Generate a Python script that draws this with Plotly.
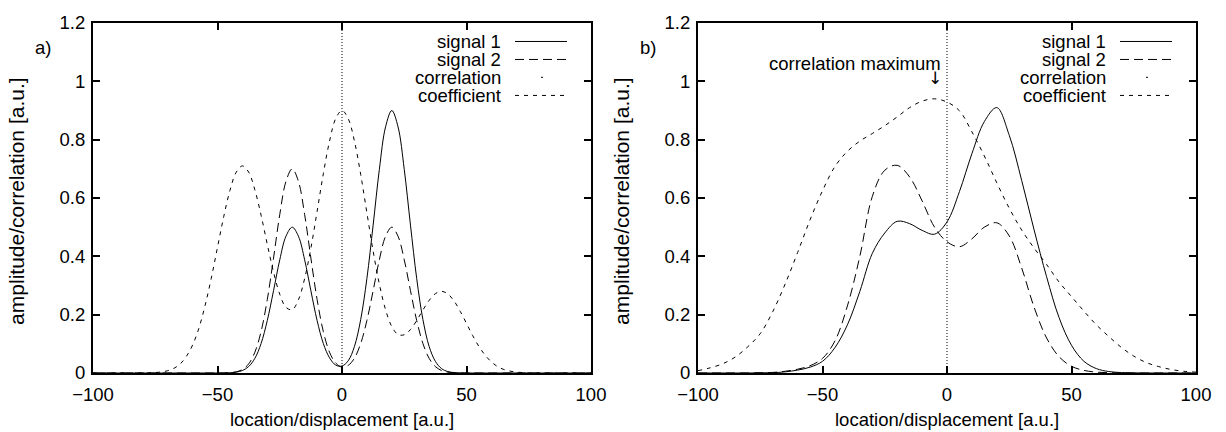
import plotly.graph_objects as go

# ---------------- data ----------------
X_A = [-100, -97.5, -95, -92.5, -90, -87.5, -85, -82.5, -80, -77.5,
       -75, -72.5, -70, -67.5, -65, -62.5, -60, -57.5, -55, -52.5,
       -50, -47.5, -45, -42.5, -40, -37.5, -35, -32.5, -30, -27.5,
       -25, -22.5, -20, -17.5, -15, -12.5, -10, -7.5, -5, -2.5,
       0, 2.5, 5, 7.5, 10, 12.5, 15, 17.5, 20, 22.5,
       25, 27.5, 30, 32.5, 35, 37.5, 40, 42.5, 45, 47.5,
       50, 52.5, 55, 57.5, 60, 62.5, 65, 67.5, 70, 72.5,
       75, 77.5, 80, 82.5, 85, 87.5, 90, 92.5, 95, 97.5, 100]

SIGNAL1_A = [0, 0, 0, 0, 0, 0, 0, 0, 0, 0,
             0, 0, 0, 0, 0, 0, 0, 0, 0, 0,
             0, 0.0002, 0.0009, 0.003, 0.0085, 0.022, 0.050, 0.101, 0.180, 0.282,
             0.388, 0.469, 0.500, 0.469, 0.388, 0.282, 0.180, 0.101, 0.052, 0.027,
             0.024, 0.042, 0.091, 0.183, 0.324, 0.507, 0.698, 0.844, 0.900, 0.844,
             0.698, 0.507, 0.324, 0.183, 0.091, 0.040, 0.015, 0.005, 0.0015, 0.0004,
             0, 0, 0, 0, 0, 0, 0, 0, 0, 0,
             0, 0, 0, 0, 0, 0, 0, 0, 0, 0, 0]

SIGNAL2_A = [0, 0, 0, 0, 0, 0, 0, 0, 0, 0,
             0, 0, 0, 0, 0, 0, 0, 0, 0, 0,
             0, 0.0003, 0.0012, 0.004, 0.012, 0.031, 0.071, 0.142, 0.252, 0.394,
             0.543, 0.657, 0.700, 0.657, 0.543, 0.394, 0.252, 0.142, 0.071, 0.034,
             0.020, 0.026, 0.051, 0.101, 0.180, 0.282, 0.388, 0.469, 0.500, 0.469,
             0.388, 0.282, 0.180, 0.101, 0.050, 0.022, 0.0085, 0.003, 0.001, 0.0002,
             0, 0, 0, 0, 0, 0, 0, 0, 0, 0,
             0, 0, 0, 0, 0, 0, 0, 0, 0, 0, 0]

COEF_A = [0, 0, 0, 0, 0, 0, 0, 0, 0.0002, 0.0006,
          0.0016, 0.0036, 0.0079, 0.016, 0.031, 0.057, 0.096, 0.153, 0.231, 0.325,
          0.431, 0.536, 0.626, 0.688, 0.710, 0.689, 0.628, 0.541, 0.441, 0.346,
          0.270, 0.225, 0.217, 0.251, 0.324, 0.428, 0.554, 0.683, 0.795, 0.873,
          0.900, 0.872, 0.795, 0.681, 0.549, 0.418, 0.305, 0.217, 0.159, 0.132,
          0.131, 0.149, 0.180, 0.216, 0.249, 0.272, 0.280, 0.271, 0.247, 0.211,
          0.170, 0.128, 0.091, 0.061, 0.038, 0.022, 0.012, 0.0064, 0.0031, 0.0014,
          0.0006, 0.0002, 0, 0, 0, 0, 0, 0, 0, 0, 0]

X_B = [-100, -95, -90, -85, -80, -75, -70, -65, -60, -55,
       -50, -45, -40, -35, -30, -25, -20, -15, -10, -5,
       0, 5, 10, 15, 20, 25, 30, 35, 40, 45,
       50, 55, 60, 65, 70, 75, 80, 85, 90, 95, 100]

SIGNAL1_B = [0, 0, 0, 0, 0, 0.0005, 0.001, 0.004, 0.010, 0.020,
             0.040, 0.087, 0.165, 0.280, 0.410, 0.480, 0.520, 0.512, 0.489, 0.476,
             0.518, 0.622, 0.752, 0.862, 0.910, 0.815, 0.660, 0.490, 0.330, 0.190,
             0.095, 0.040, 0.015, 0.005, 0.0015, 0.0005, 0, 0, 0, 0, 0]

SIGNAL2_B = [0, 0, 0, 0, 0, 0.001, 0.002, 0.006, 0.013, 0.025,
             0.050, 0.110, 0.230, 0.400, 0.605, 0.695, 0.712, 0.672, 0.590, 0.500,
             0.450, 0.433, 0.460, 0.500, 0.515, 0.470, 0.360, 0.225, 0.120, 0.056,
             0.023, 0.009, 0.003, 0.001, 0, 0, 0, 0, 0, 0, 0]

COEF_B = [0.008, 0.018, 0.032, 0.055, 0.090, 0.135, 0.210, 0.305, 0.413, 0.525,
          0.625, 0.708, 0.760, 0.795, 0.821, 0.848, 0.878, 0.910, 0.932, 0.940,
          0.929, 0.899, 0.827, 0.744, 0.652, 0.565, 0.490, 0.428, 0.372, 0.312,
          0.262, 0.212, 0.165, 0.125, 0.088, 0.058, 0.036, 0.022, 0.012, 0.006, 0.003]

ZERO_LINE_X = [0, 0]
ZERO_LINE_Y = [0, 1.2]

X_TICKS = [-100, -50, 0, 50, 100]
Y_TICKS = [0, 0.2, 0.4, 0.6, 0.8, 1, 1.2]
LEGEND_LABELS = ["signal 1", "signal 2", "correlation", "coefficient"]
PANEL_LABELS = ["a)", "b)"]
X_TITLE = "location/displacement [a.u.]"
Y_TITLE = "amplitude/correlation [a.u.]"
MAX_LABEL = "correlation maximum"
MAX_X = -5.0      # location of correlation maximum (panel b)
MAX_TEXT_Y = 1.06
MAX_ARROW_Y = 1.01

# ---------------- styling ----------------
FONT = "Liberation Sans, Arial, Helvetica, sans-serif"
FS = 18.5
FS_YTITLE = 21
W, H = 1226, 432
L, R, T, B = 93, 1196, 13, 373          # pixel box covering both panels
A_RIGHT, B_LEFT = 591, 698


def px(x):
    return (x - L) / (R - L)


def py(y):
    return (B - y) / (B - T)


DASH_SIG2 = "9px,5px"
DASH_COEF = "4px,5px"
DASH_ZERO = "1px,2px"

fig = go.Figure()

panels = [
    ("x", "y", X_A, SIGNAL1_A, SIGNAL2_A, COEF_A),
    ("x2", "y2", X_B, SIGNAL1_B, SIGNAL2_B, COEF_B),
]
for xa, ya, xs, s1, s2, cc in panels:
    fig.add_trace(go.Scatter(x=ZERO_LINE_X, y=ZERO_LINE_Y, mode="lines", xaxis=xa, yaxis=ya,
                             line=dict(color="black", width=1, dash=DASH_ZERO),
                             showlegend=False, hoverinfo="skip"))
    fig.add_trace(go.Scatter(x=xs, y=cc, mode="lines", xaxis=xa, yaxis=ya,
                             line=dict(color="black", width=1, dash=DASH_COEF, shape="spline"),
                             name="coefficient", showlegend=False))
    fig.add_trace(go.Scatter(x=xs, y=s2, mode="lines", xaxis=xa, yaxis=ya,
                             line=dict(color="black", width=1, dash=DASH_SIG2, shape="spline"),
                             name="signal 2", showlegend=False))
    fig.add_trace(go.Scatter(x=xs, y=s1, mode="lines", xaxis=xa, yaxis=ya,
                             line=dict(color="black", width=1, shape="spline"),
                             name="signal 1", showlegend=False))

axis_common = dict(showgrid=False, zeroline=False, showline=True, linecolor="black",
                   linewidth=2, mirror="allticks", ticks="inside", ticklen=7,
                   tickwidth=1.5, tickcolor="black",
                   tickfont=dict(family=FONT, size=FS, color="black"))

fig.update_layout(
    width=W, height=H,
    margin=dict(l=L, r=W - R, t=T, b=H - B, pad=0),
    plot_bgcolor="white", paper_bgcolor="white",
    showlegend=False,
    font=dict(family=FONT, size=FS, color="black"),
    xaxis=dict(domain=[0, px(A_RIGHT)], range=[-100, 100], tickvals=X_TICKS, anchor="y",
               ticklabelstandoff=4, **axis_common),
    yaxis=dict(domain=[0, 1], range=[0, 1.2], tickvals=Y_TICKS, anchor="x",
               ticklabelstandoff=2, **axis_common),
    xaxis2=dict(domain=[px(B_LEFT), 1], range=[-100, 100], tickvals=X_TICKS, anchor="y2",
                ticklabelstandoff=4, **axis_common),
    yaxis2=dict(domain=[0, 1], range=[0, 1.2], tickvals=Y_TICKS, anchor="x2",
                ticklabelstandoff=2, **axis_common),
)

annotations = []
shapes = []
LEG_Y = [32, 50.5, 69, 87.5]
for (left, right), plabel in zip([(L, A_RIGHT), (B_LEFT, R)], PANEL_LABELS):
    cx = (left + right) / 2
    # x title
    annotations.append(dict(text=X_TITLE, xref="paper", yref="paper", x=px(cx), y=py(421),
                            xanchor="center", yanchor="middle", showarrow=False,
                            font=dict(family=FONT, size=FS, color="black")))
    # y title
    annotations.append(dict(text=Y_TITLE, xref="paper", yref="paper", x=px(left - 76), y=py(197),
                            xanchor="center", yanchor="middle", showarrow=False, textangle=-90,
                            font=dict(family=FONT, size=FS_YTITLE, color="black")))
    # panel label
    annotations.append(dict(text=plabel, xref="paper", yref="paper", x=px(left - 50), y=py(38),
                            xanchor="center", yanchor="middle", showarrow=False,
                            font=dict(family=FONT, size=FS, color="black")))
    # legend
    for lab, yy in zip(LEGEND_LABELS, LEG_Y):
        annotations.append(dict(text=lab, xref="paper", yref="paper", x=px(right - 88), y=py(yy),
                                xanchor="right", yanchor="middle", showarrow=False,
                                font=dict(family=FONT, size=FS, color="black")))
    x0, x1 = px(right - 76), px(right - 24)
    shapes.append(dict(type="line", xref="paper", yref="paper", x0=x0, x1=x1,
                       y0=py(LEG_Y[0]), y1=py(LEG_Y[0]), line=dict(color="black", width=1)))
    shapes.append(dict(type="line", xref="paper", yref="paper", x0=x0, x1=x1,
                       y0=py(LEG_Y[1]), y1=py(LEG_Y[1]),
                       line=dict(color="black", width=1, dash=DASH_SIG2)))
    xm = right - 49
    shapes.append(dict(type="line", xref="paper", yref="paper", x0=px(xm - 0.8), x1=px(xm + 0.8),
                       y0=py(LEG_Y[2]), y1=py(LEG_Y[2]), line=dict(color="black", width=1.2)))
    shapes.append(dict(type="line", xref="paper", yref="paper", x0=x0, x1=x1,
                       y0=py(LEG_Y[3]), y1=py(LEG_Y[3]),
                       line=dict(color="black", width=1, dash=DASH_COEF)))

# correlation maximum marker (panel b)
annotations.append(dict(text=MAX_LABEL, xref="x2", yref="y2", x=MAX_X, y=MAX_TEXT_Y,
                        xanchor="right", yanchor="middle", xshift=8, showarrow=False,
                        font=dict(family=FONT, size=FS, color="black")))
annotations.append(dict(text="\u2193", xref="x2", yref="y2", x=MAX_X, y=MAX_ARROW_Y,
                        xanchor="center", yanchor="middle", showarrow=False,
                        font=dict(family="DejaVu Sans", size=17, color="black")))

fig.update_layout(annotations=annotations, shapes=shapes)

fig.write_html("out.html")
